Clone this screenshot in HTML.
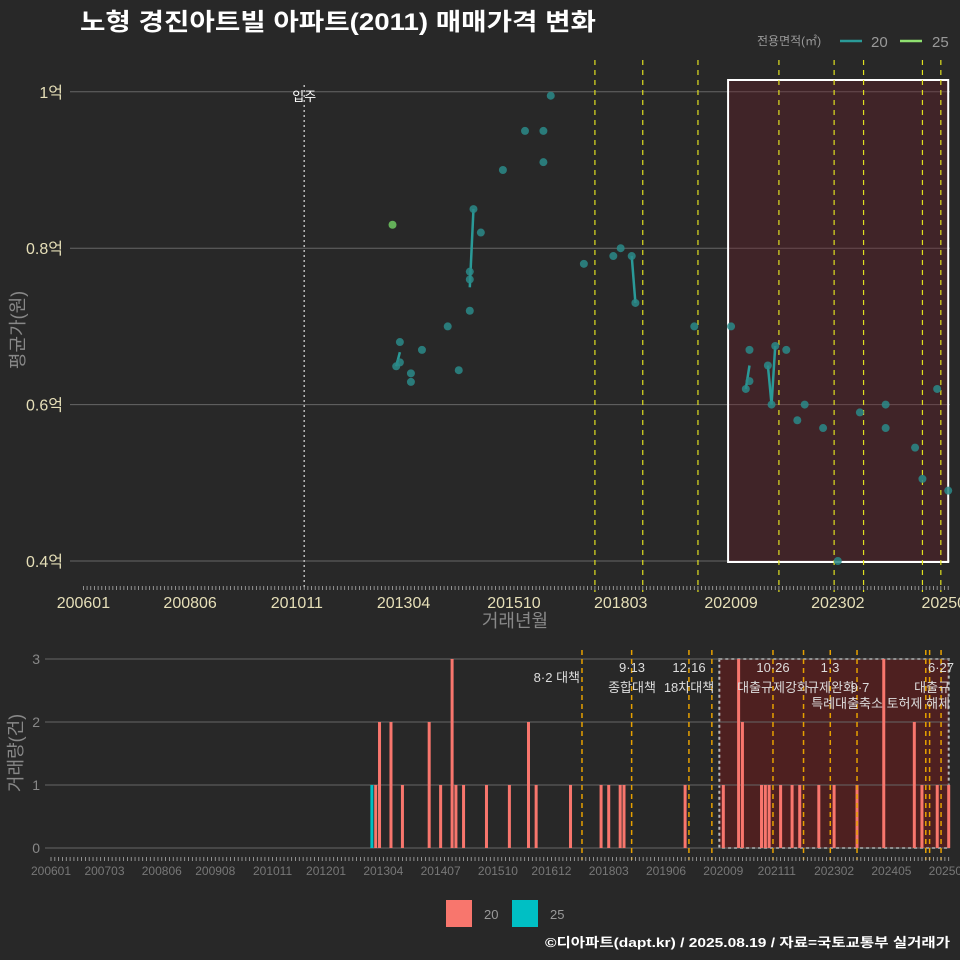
<!DOCTYPE html>
<html><head><meta charset="utf-8"><style>
body{margin:0;background:#282828;}
svg{display:block;font-family:"Liberation Sans","Noto Sans CJK KR",sans-serif;}
</style></head><body>
<svg id="c" width="960" height="960" xmlns="http://www.w3.org/2000/svg">
<rect width="960" height="960" fill="#282828"/>
<text x="80" y="30" fill="#fff" font-size="24" font-weight="bold" textLength="516" lengthAdjust="spacingAndGlyphs">노형 경진아트빌 아파트(2011) 매매가격 변화</text>
<g>
<text x="757" y="45" fill="#999" font-size="12">전용면적(㎡)</text>
<line x1="840" y1="41" x2="862" y2="41" stroke="#2a9a98" stroke-width="2.5"/>
<text x="871" y="47" fill="#999" font-size="15">20</text>
<line x1="900" y1="41" x2="922" y2="41" stroke="#8fe070" stroke-width="2.5"/>
<text x="932" y="47" fill="#999" font-size="15">25</text>
</g>
<g id="topG"></g>
<g id="botG"></g>
<text transform="translate(24,330) rotate(-90)" text-anchor="middle" fill="#888" font-size="18">평균가(원)</text>
<text x="515" y="627" text-anchor="middle" fill="#888" font-size="18">거래년월</text>
<text transform="translate(22,753) rotate(-90)" text-anchor="middle" fill="#888" font-size="18">거래량(건)</text>
<g>
<rect x="446" y="900" width="26" height="27" fill="#f8766d"/>
<text x="484" y="919" fill="#999" font-size="13">20</text>
<rect x="512" y="900" width="26" height="27" fill="#00bfc4"/>
<text x="550" y="919" fill="#999" font-size="13">25</text>
</g>
<text x="545" y="947" fill="#fff" font-size="13" font-weight="bold" textLength="405" lengthAdjust="spacingAndGlyphs">©디아파트(dapt.kr) / 2025.08.19 / 자료=국토교통부 실거래가</text>
</svg>
<script>
// months since 200601
const months20 = [85,86,86,89,89,92,99,102,105,105,105,106,108,114,120,125,125,127,136,144,146,149,150,166,176,180,181,181,186,187,188,191,194,196,201,205,211,218,218,226,228,232,235];
const prices20 = [0.649,0.654,0.68,0.64,0.629,0.67,0.70,0.644,0.72,0.76,0.77,0.85,0.82,0.90,0.95,0.95,0.91,0.995,0.78,0.79,0.80,0.79,0.73,0.70,0.70,0.62,0.67,0.63,0.65,0.60,0.675,0.67,0.58,0.60,0.57,0.40,0.59,0.60,0.57,0.545,0.505,0.62,0.49];
const months25 = [84];
const prices25 = [0.83];
const barMonths20 = [85,86,89,92,99,102,105,106,108,114,120,125,127,136,144,146,149,150,166,176,180,181,186,187,188,191,194,196,201,205,211,218,226,228,232,235];
const barCounts20 = [1,2,2,1,2,1,3,1,1,1,1,2,1,1,1,1,1,1,1,1,3,2,1,1,1,1,1,1,1,1,1,3,2,1,1,1];
const barMonths25 = [84];
const barCounts25 = [1];
const topTickMonths = [0,29,58,87,117,146,176,205,235];
const topTickLabels = ["200601","200806","201011","201304","201510","201803","202009","202302","202508"];
const botTickMonths = [0,14,29,43,58,72,87,102,117,131,146,161,176,190,205,220,235];
const botTickLabels = ["200601","200703","200806","200908","201011","201201","201304","201407","201510","201612","201803","201906","202009","202111","202302","202405","202508"];
const yTicks = [0.4,0.6,0.8,1.0];
const yTickLabels = ["0.4억","0.6억","0.8억","1억"];
const cTicks = [0,1,2,3];
const policyTop = [139,152,167,189,204,212,228,233];
const policyBot = [139,152,167,173,189,197,204,211,229,230,233];
const moveIn = 60;
const highlightStart = 176, highlightEnd = 235;

const NS="http://www.w3.org/2000/svg";
function mk(p,t,a){const e=document.createElementNS(NS,t);for(const k in a)e.setAttribute(k,a[k]);p.appendChild(e);return e;}
const xT=m=>83.4+3.68*m, yT=v=>561-(v-0.4)*782;
const xB=m=>51+3.82*m, yB=c=>848-c*63;
const topG=document.getElementById('topG'), botG=document.getElementById('botG');

yTicks.forEach((v,i)=>{
  const g=mk(topG,'line',{x1:70,x2:950,y1:yT(v),y2:yT(v),stroke:'#666','stroke-width':1});
  
  
  const t=mk(topG,'text',{x:63,y:yT(v)+6,'text-anchor':'end',fill:'#e6dfb8','font-size':16});
  t.textContent=yTickLabels[i];
  
  
});
const hr=mk(topG,'rect',{x:xT(highlightStart)-3,y:80,width:xT(highlightEnd)-xT(highlightStart)+3,height:482,fill:'rgba(110,30,40,0.35)',stroke:'#fff','stroke-width':2});


const mv=mk(topG,'line',{x1:xT(moveIn),x2:xT(moveIn),y1:85,y2:590,stroke:'#bbb','stroke-width':1.5,'stroke-dasharray':'2,3'});


const mt=mk(topG,'text',{x:xT(moveIn),y:101,'text-anchor':'middle',fill:'#fff','font-size':13});
mt.textContent='입주';


policyTop.forEach(m=>{
  const l=mk(topG,'line',{x1:xT(m),x2:xT(m),y1:60,y2:592,stroke:'#e0e020','stroke-width':1.2,'stroke-dasharray':'5,5'});
  
  
});
for(let m=0;m<=235;m++){
  const l=mk(topG,'line',{x1:xT(m),x2:xT(m),y1:586,y2:590,stroke:'#aaa','stroke-width':0.8});
  
  
}
topTickMonths.forEach((m,i)=>{
  const t=mk(topG,'text',{x:xT(m),y:608,'text-anchor':'middle',fill:'#e6dfb8','font-size':16});
  t.textContent=topTickLabels[i];
  
  
});
const um=[...new Set(months20)];
const means=um.map(m=>{const v=prices20.filter((p,i)=>months20[i]===m);return v.reduce((a,b)=>a+b,0)/v.length;});
for(let i=1;i<um.length;i++){
  if(um[i]-um[i-1]===1){
    const l=mk(topG,'line',{x1:xT(um[i-1]),y1:yT(means[i-1]),x2:xT(um[i]),y2:yT(means[i]),stroke:'#2a9a98','stroke-width':2.5});
    
    
  }
}
months20.forEach((m,i)=>{
  const c=mk(topG,'circle',{cx:xT(m),cy:yT(prices20[i]),r:4,fill:'#2a8a88','fill-opacity':0.85});
  
  
});
months25.forEach((m,i)=>{
  const c=mk(topG,'circle',{cx:xT(m),cy:yT(prices25[i]),r:4,fill:'#6abf5e','fill-opacity':0.9});
  
  
});

const hb=mk(botG,'rect',{x:xB(highlightStart)-4,y:659,width:xB(highlightEnd)-xB(highlightStart)+4,height:189,fill:'rgba(110,25,25,0.55)',stroke:'#bbb','stroke-width':2,'stroke-dasharray':'3,3'});


cTicks.forEach(c=>{
  const g=mk(botG,'line',{x1:45,x2:950,y1:yB(c),y2:yB(c),stroke:'#666','stroke-width':1});
  
  
  const t=mk(botG,'text',{x:40,y:yB(c)+5,'text-anchor':'end',fill:'#888','font-size':14});
  t.textContent=c;
  
  
});
barMonths20.forEach((m,i)=>{
  const b=mk(botG,'rect',{x:xB(m)-1.5,y:yB(barCounts20[i]),width:3,height:barCounts20[i]*63,fill:'#f8766d'});
  
  
});
barMonths25.forEach((m,i)=>{
  const b=mk(botG,'rect',{x:xB(m)-1.5,y:yB(barCounts25[i]),width:3,height:barCounts25[i]*63,fill:'#00bfc4'});
  
  
});
policyBot.forEach(m=>{
  const l=mk(botG,'line',{x1:xB(m),x2:xB(m),y1:650,y2:860,stroke:'#e6a000','stroke-width':1.5,'stroke-dasharray':'5,4'});
  
  
});
for(let m=0;m<=235;m++){
  const l=mk(botG,'line',{x1:xB(m),x2:xB(m),y1:857,y2:861,stroke:'#aaa','stroke-width':0.8});
  
  
}
botTickMonths.forEach((m,i)=>{
  const t=mk(botG,'text',{x:xB(m),y:875,'text-anchor':'middle',fill:'#777','font-size':12});
  t.textContent=botTickLabels[i];
  
  
});
const notes=[[580,682,'8·2 대책','end'],[632,672,'9·13','middle'],[632,692,'종합대책','middle'],[689,672,'12·16','middle'],[689,692,'18차대책','middle'],[773,672,'10·26','middle'],[773,692,'대출규제강화','middle'],[830,672,'1·3','middle'],[831,692,'규제완화','middle'],[860,692,'9·7','middle'],[950,708,'특례대출축소 토허제 해제','end'],[941,672,'6·27','middle'],[950,692,'대출규','end']];
notes.forEach(n=>{
  const t=mk(botG,'text',{x:n[0],y:n[1],'text-anchor':n[3],fill:'#ddd','font-size':13});
  t.textContent=n[2];
  
  
});
</script>
</body></html>
